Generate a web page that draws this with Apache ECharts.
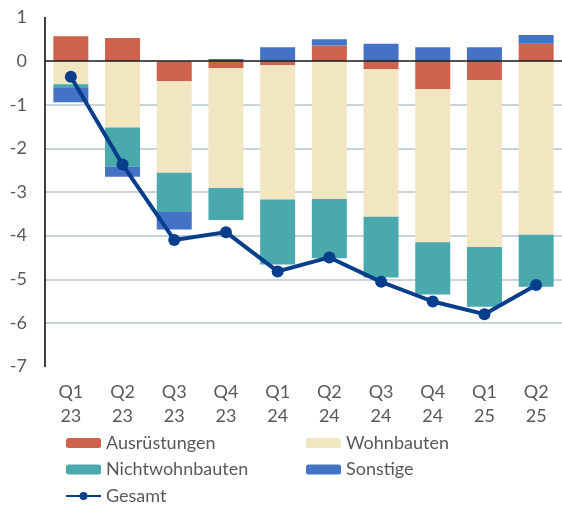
<!DOCTYPE html>
<html>
<head>
<meta charset="utf-8">
<script src="https://cdn.jsdelivr.net/npm/echarts@6/dist/echarts.min.js"></script>
<style>
  html, body { margin: 0; padding: 0; background: #fff; }
  #chart { width: 562px; height: 509px; }
</style>
</head>
<body>
<div id="chart"></div>
<script>
// Quartale
var categories = ['Q1\n23', 'Q2\n23', 'Q3\n23', 'Q4\n23', 'Q1\n24', 'Q2\n24', 'Q3\n24', 'Q4\n24', 'Q1\n25', 'Q2\n25'];
// Beiträge (Prozentpunkte)
var ausruestungen   = [0.57, 0.53, -0.46, -0.16, -0.09, 0.36, -0.18, -0.64, -0.43, 0.40];
var wohnbauten      = [-0.53, -1.52, -2.10, -2.75, -3.08, -3.16, -3.39, -3.51, -3.83, -3.98];
var nichtwohnbauten = [-0.07, -0.90, -0.90, -0.73, -1.49, -1.36, -1.39, -1.20, -1.37, -1.19];
var sonstige        = [-0.34, -0.23, -0.40, 0.05, 0.32, 0.14, 0.40, 0.32, 0.32, 0.20];
var gesamt          = [-0.36, -2.37, -4.10, -3.92, -4.82, -4.50, -5.06, -5.51, -5.80, -5.13];

var textColor = '#595959';
var font = 'Lato';

var chart = echarts.init(document.getElementById('chart'));

function bar(name, data, color) {
  return {
    name: name,
    type: 'bar',
    stack: 'beitrag',
    barWidth: 35,
    data: data,
    itemStyle: { color: color },
    emphasis: { disabled: true }
  };
}

var legendText = { color: textColor, fontFamily: font, fontSize: 18, lineHeight: 20 };

chart.setOption({
  animation: false,
  grid: { left: 45, right: -4, top: 17.5, bottom: 142.5 },
  xAxis: {
    type: 'category',
    data: categories,
    axisLine: { show: false, onZero: false },
    axisTick: { show: false },
    axisLabel: {
      color: textColor, fontFamily: font, fontSize: 18, lineHeight: 24,
      margin: 14
    }
  },
  yAxis: {
    type: 'value',
    min: -7,
    max: 1,
    interval: 1,
    axisLine: { show: true, lineStyle: { color: '#000', width: 1.5 } },
    axisTick: { show: false },
    axisLabel: { color: textColor, fontFamily: font, fontSize: 18, margin: 18 },
    splitLine: {
      show: true,
      lineStyle: {
        width: 1.5,
        color: ['rgba(0,0,0,0)', '#b7c3cc', '#b7c3cc', '#b7c3cc', '#b7c3cc', '#b7c3cc', '#b7c3cc', 'rgba(0,0,0,0)', 'rgba(0,0,0,0)']
      }
    }
  },
  legend: [
    {
      orient: 'vertical', left: 65, top: 433, padding: 0, height: 80,
      itemWidth: 35, itemHeight: 10, itemGap: 6.5,
      textStyle: legendText,
      data: ['Ausrüstungen', 'Nichtwohnbauten', 'Gesamt']
    },
    {
      orient: 'vertical', left: 306, top: 433, padding: 0, height: 80,
      itemWidth: 35, itemHeight: 10, itemGap: 6.5,
      textStyle: legendText,
      data: ['Wohnbauten', 'Sonstige']
    }
  ],
  series: [
    bar('Ausrüstungen', ausruestungen, '#cf624d'),
    bar('Wohnbauten', wohnbauten, '#f2e5c2'),
    bar('Nichtwohnbauten', nichtwohnbauten, '#49a9ad'),
    bar('Sonstige', sonstige, '#4472c4'),
    {
      name: 'Gesamt',
      type: 'line',
      data: gesamt,
      z: 5,
      symbol: 'circle',
      symbolSize: 12,
      itemStyle: { color: '#063e8b' },
      lineStyle: { color: '#063e8b', width: 4 },
      emphasis: { disabled: true },
      markLine: {
        silent: true,
        symbol: 'none',
        label: { show: false },
        lineStyle: { color: '#1a1a1a', width: 1.5, type: 'solid' },
        data: [{ yAxis: 0 }]
      }
    }
  ]
});
</script>
</body>
</html>
